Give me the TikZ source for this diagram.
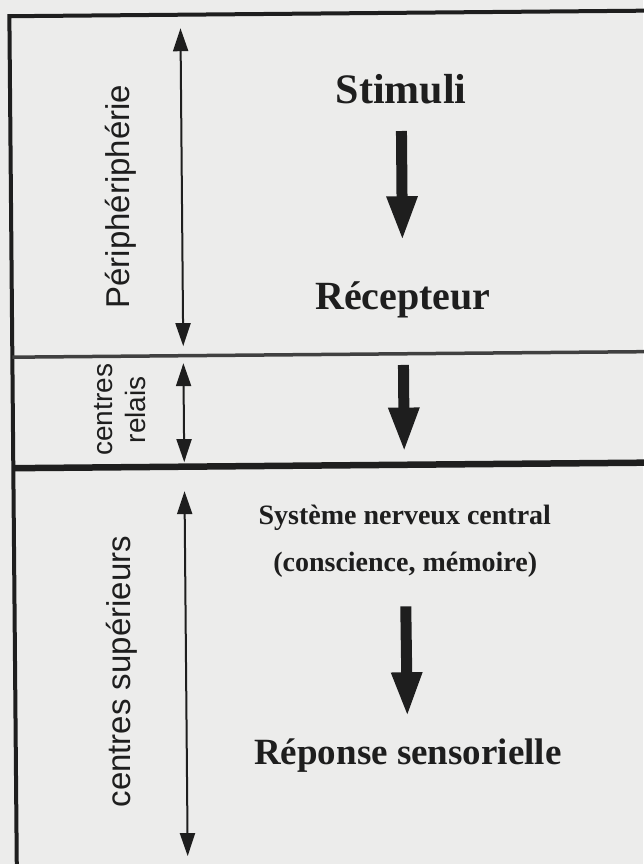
\documentclass[tikz,border=0pt]{standalone}
\usepackage{fontspec}
\setmainfont{Liberation Serif}
\setsansfont{Liberation Sans}
\usetikzlibrary{arrows.meta}

\definecolor{paper}{RGB}{236,236,235}
\definecolor{ink}{RGB}{30,30,30}

\newcommand{\stagefont}[1]{\bfseries\fontsize{#1}{#1}\selectfont}
\newcommand{\zonefont}[2]{\sffamily\fontsize{#1}{#2}\selectfont}

\tikzset{
  frameline/.style={ink, line width=4pt},
  bandline/.style={ink!85, line width=3.5pt},
  bandthick/.style={ink, line width=6.5pt},
  rangearrow/.style={ink, line width=2pt,
    {Triangle[length=23pt,width=15pt]}-{Triangle[length=23pt,width=15pt]}},
  bigarrow/.style={ink, line width=11pt, -{Triangle[length=45pt,width=28pt]}},
  stage/.style={text=ink, inner sep=0pt, anchor=base},
  zone/.style={text=ink, inner sep=0pt, rotate=90, align=center},
}

\begin{document}
\begin{tikzpicture}[x=1pt, y=-1pt]
    \useasboundingbox (0,0) rectangle (643,864);
    \fill[paper] (0,0) rectangle (643,864);

    \begin{scope}[rotate around={0.5:(321,432)}]
    % Frame and bands
    \draw[frameline] (670,13.5) -- (13,13.5) -- (13,880);
    \draw[bandline] (13,354.5) -- (670,354.5);
    \draw[bandthick] (13,465.5) -- (670,465.5);

    % Zone labels
    \node[zone, font=\zonefont{33}{40}] (peri) at (123,195) {Périphériphérie};
    \node[zone, font=\zonefont{28}{33}] (relais) at (120,408) {centres\\relais};
    \node[zone, font=\zonefont{33}{40}] (sup) at (120,670) {centres supérieurs};

    % Zone extents
    \coordinate (periTop) at (184,27);
    \coordinate (periBot) at (184,345);
    \coordinate (relTop) at (184,362);
    \coordinate (relBot) at (184,461);
    \coordinate (supTop) at (184,490);
    \coordinate (supBot) at (184,855);
    \draw[rangearrow] (periTop) -- (periBot);
    \draw[rangearrow] (relTop) -- (relBot);
    \draw[rangearrow] (supTop) -- (supBot);

    % Stages
    \node[stage, font=\stagefont{42}] (stim) at (404,104) {Stimuli};
    \node[stage, font=\stagefont{40}] (recep) at (404,310) {Récepteur};
    \node[stage, font=\stagefont{28}] (snc) at (404,525) {Système nerveux central};
    \node[stage, font=\stagefont{28}] (consc) at (404,572) {(conscience, mémoire)};
    \node[stage, font=\stagefont{37}] (repon) at (405,765) {Réponse sensorielle};

    % Flow
    \draw[bigarrow, shorten <=27pt, shorten >=40pt] (stim) -- (recep);
    \draw[bigarrow, shorten <=47pt, shorten >=52pt] (recep) -- (snc);
    \draw[bigarrow, shorten <=29pt, shorten >=21pt] (consc) -- (repon);
    \end{scope}
\end{tikzpicture}
\end{document}
